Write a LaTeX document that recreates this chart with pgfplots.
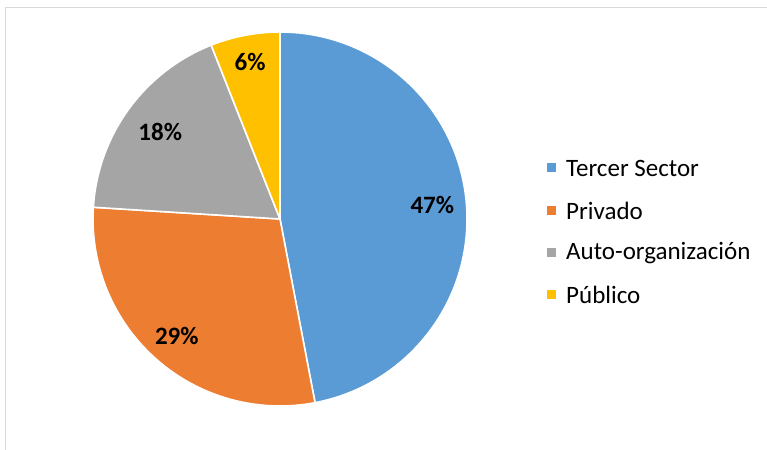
\documentclass[border=0pt]{standalone}
\usepackage{pgfplots}
\pgfplotsset{compat=1.18}
\usepackage{pgfplotstable}
\usepackage{fontspec}
\setmainfont{Carlito}
\definecolor{cblue}{HTML}{5B9BD5}
\definecolor{corange}{HTML}{ED7D31}
\definecolor{cgray}{HTML}{A5A5A5}
\definecolor{cgold}{HTML}{FFC000}
\definecolor{cframe}{HTML}{D9D9D9}
\pgfplotstableread{
label value
Tercer 47
Privado 29
Auto 18
Publico 6
}\piedata
\pgfplotstablegetelem{0}{value}\of\piedata \let\va\pgfplotsretval
\pgfplotstablegetelem{1}{value}\of\piedata \let\vb\pgfplotsretval
\pgfplotstablegetelem{2}{value}\of\piedata \let\vc\pgfplotsretval
\pgfplotstablegetelem{3}{value}\of\piedata \let\vd\pgfplotsretval
\pgfmathsetmacro{\aA}{90}
\pgfmathsetmacro{\aB}{\aA-3.6*\va}
\pgfmathsetmacro{\aC}{\aB-3.6*\vb}
\pgfmathsetmacro{\aD}{\aC-3.6*\vc}
\pgfmathsetmacro{\aE}{\aD-3.6*\vd}
\pgfmathsetmacro{\mA}{(\aA+\aB)/2}
\pgfmathsetmacro{\mB}{(\aB+\aC)/2}
\pgfmathsetmacro{\mC}{(\aC+\aD)/2}
\pgfmathsetmacro{\mD}{(\aD+\aE)/2}
\begin{document}
\begin{tikzpicture}[x=1pt,y=1pt]
\useasboundingbox (0,0) rectangle (767,449);
\fill[white] (0,0) rectangle (767,449);
\begin{axis}[at={(0,0)},anchor=south west,
  scale only axis, width=767pt, height=449pt,
  xmin=0, xmax=767, ymin=0, ymax=449, hide axis, clip=false]
\pgfplotsextra{
\def\R{187}
\foreach \s/\e/\c in {\aA/\aB/cblue, \aB/\aC/corange, \aC/\aD/cgray, \aD/\aE/cgold}{
  \filldraw[fill=\c, draw=white, line width=1.6pt, line join=round]
    (axis cs:280,230) -- ++(\s:\R) arc[start angle=\s, end angle=\e, radius=\R] -- cycle;
}
\fontsize{25}{29}\selectfont
\path (axis cs:280,230) ++(\mA:153) node {\bfseries \va\%};
\path (axis cs:280,230) ++(\mB:156) node {\bfseries \vb\%};
\path (axis cs:280,230) ++(\mC:148) node {\bfseries \vc\%};
\path (axis cs:280,230) ++(\mD:160) node {\bfseries \vd\%};
\foreach \y/\c/\t in {281/cblue/Tercer Sector, 238/corange/Privado, 196/cgray/Auto-organización, 154/cgold/Público}{
  \fill[\c] (axis cs:547,\y-4.5) rectangle (axis cs:556,\y+4.5);
  \node[anchor=west, inner sep=0pt] at (axis cs:566,\y) {\fontsize{25}{29}\selectfont \t};
}
}
\end{axis}
\draw[cframe, line width=1.2pt] (5.5,-5) -- (5.5,441.5) -- (780,441.5);
\end{tikzpicture}
\end{document}
